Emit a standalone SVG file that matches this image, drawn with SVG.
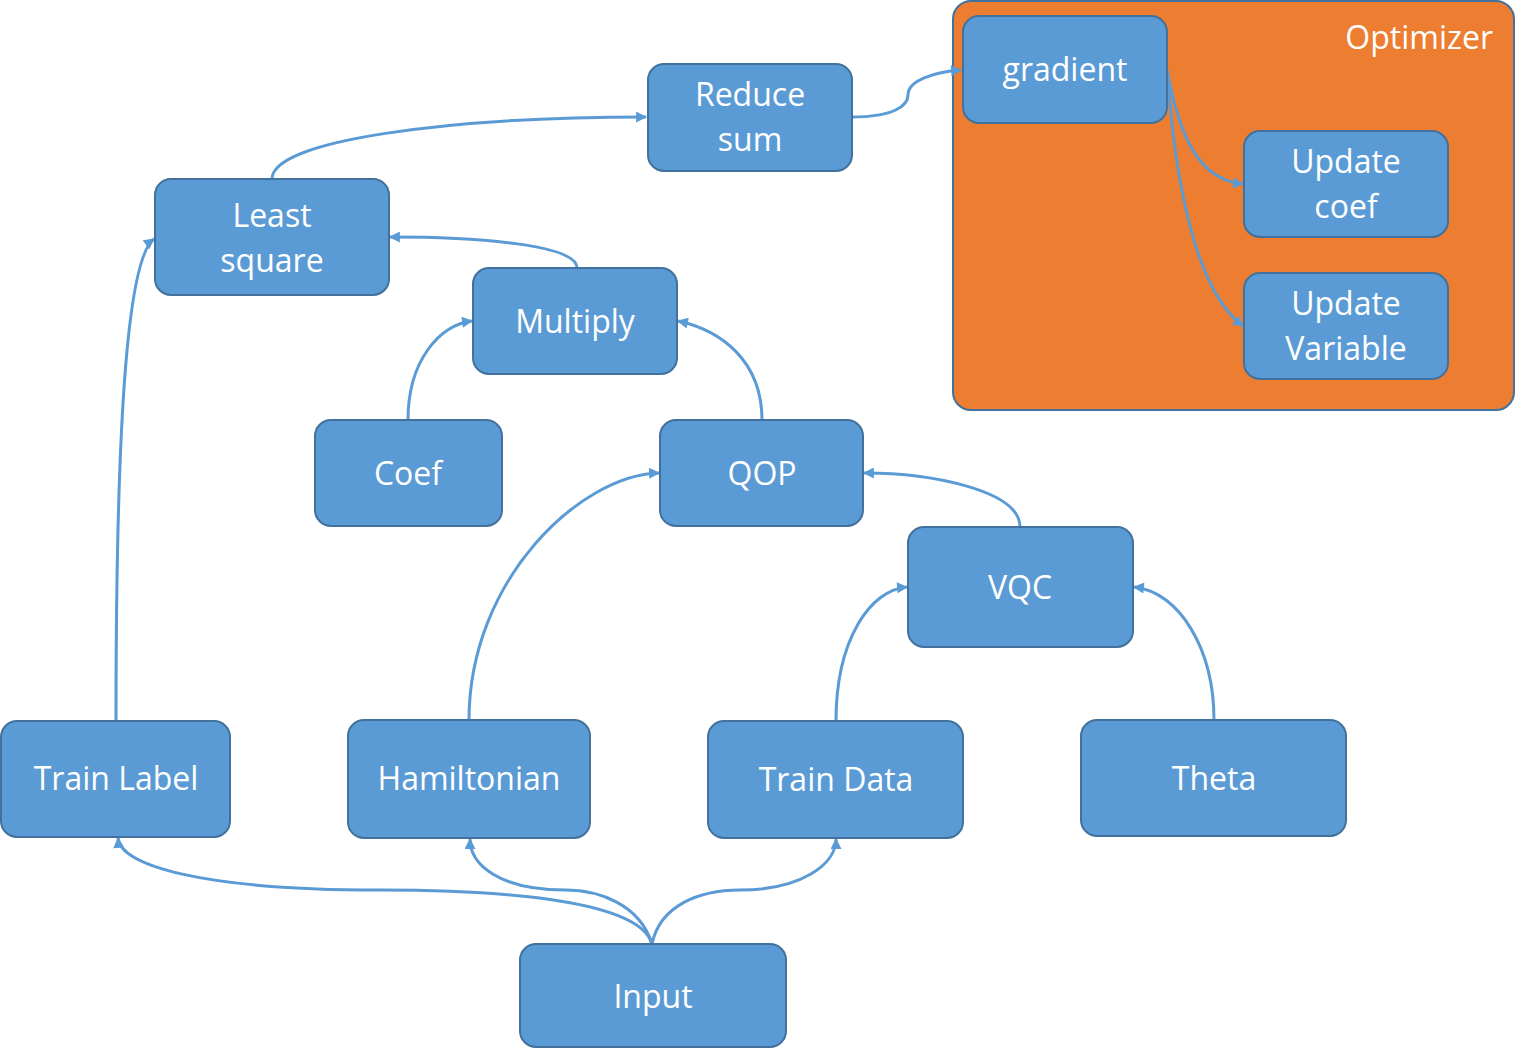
<svg xmlns="http://www.w3.org/2000/svg" width="1516" height="1048" viewBox="0 0 1516 1048">
<style>
.n{fill:#5B9BD5;stroke:#41719C;stroke-width:2}
.t{font-family:"Open Sans","Noto Sans","DejaVu Sans",sans-serif;font-size:32px;fill:#fff;text-anchor:middle}
.c{fill:none;stroke:#5B9BD5;stroke-width:3}
</style>
<defs>
<marker id="a" viewBox="0 0 10 10" refX="9" refY="5" markerWidth="12" markerHeight="11" markerUnits="userSpaceOnUse" orient="auto">
<path d="M0,0 L10,5 L0,10 Z" fill="#5B9BD5"/>
</marker>
</defs>
<rect width="1516" height="1048" fill="#fff"/>
<g id="optimizer">
<rect x="953" y="1" width="561" height="409" rx="18" fill="#ED7D31" stroke="#41719C" stroke-width="2"/>
<text class="t" x="1493" y="49" style="text-anchor:end">Optimizer</text>
</g>
<g id="connectors">
<path class="c" marker-end="url(#a)" d="M272,179 C272,140 450,117 646,117"/>
<path class="c" marker-end="url(#a)" d="M852,117 C895,117 908,105 908,95 C908,80 935,72 961,70"/>
<path class="c" marker-end="url(#a)" d="M1167,70 C1180,140 1200,180 1243,184"/>
<path class="c" marker-end="url(#a)" d="M1167,70 C1175,180 1195,290 1243,326"/>
<path class="c" marker-end="url(#a)" d="M577,268 C577,245 480,237 390,237"/>
<path class="c" marker-end="url(#a)" d="M408,420 C408,360 440,325 472,321"/>
<path class="c" marker-end="url(#a)" d="M762,420 C762,360 720,330 678,321"/>
<path class="c" marker-end="url(#a)" d="M469,720 C469,580 580,475 659,473"/>
<path class="c" marker-end="url(#a)" d="M1020,527 C1020,490 930,473 864,473"/>
<path class="c" marker-end="url(#a)" d="M836,721 C836,640 870,590 907,587"/>
<path class="c" marker-end="url(#a)" d="M1214,720 C1214,650 1180,592 1134,587"/>
<path class="c" marker-end="url(#a)" d="M116,721 C116,450 125,260 154,239"/>
<path class="c" marker-end="url(#a)" d="M652,944 C640,900 500,890 380,890 C200,890 120,865 118,838"/>
<path class="c" marker-end="url(#a)" d="M652,944 C640,905 600,890 565,890 C500,890 470,865 470,839"/>
<path class="c" marker-end="url(#a)" d="M652,944 C660,905 700,890 740,890 C800,890 836,865 836,839"/>
</g>
<g id="gradient"><rect class="n" x="963" y="16" width="204" height="107" rx="16"/><text class="t" x="1065" y="81">gradient</text></g>
<g id="update-coef"><rect class="n" x="1244" y="131" width="204" height="106" rx="16"/><text class="t" x="1346" y="173">Update</text><text class="t" x="1346" y="218">coef</text></g>
<g id="update-variable"><rect class="n" x="1244" y="273" width="204" height="106" rx="16"/><text class="t" x="1346" y="315">Update</text><text class="t" x="1346" y="360">Variable</text></g>
<g id="reduce-sum"><rect class="n" x="648" y="64" width="204" height="107" rx="16"/><text class="t" x="750" y="106">Reduce</text><text class="t" x="750" y="151">sum</text></g>
<g id="least-square"><rect class="n" x="155" y="179" width="234" height="116" rx="16"/><text class="t" x="272" y="227">Least</text><text class="t" x="272" y="272">square</text></g>
<g id="multiply"><rect class="n" x="473" y="268" width="204" height="106" rx="16"/><text class="t" x="575" y="333">Multiply</text></g>
<g id="coef"><rect class="n" x="315" y="420" width="187" height="106" rx="16"/><text class="t" x="408" y="485">Coef</text></g>
<g id="qop"><rect class="n" x="660" y="420" width="203" height="106" rx="16"/><text class="t" x="762" y="485">QOP</text></g>
<g id="vqc"><rect class="n" x="908" y="527" width="225" height="120" rx="16"/><text class="t" x="1020" y="599">VQC</text></g>
<g id="train-label"><rect class="n" x="1" y="721" width="229" height="116" rx="16"/><text class="t" x="116" y="790">Train Label</text></g>
<g id="hamiltonian"><rect class="n" x="348" y="720" width="242" height="118" rx="16"/><text class="t" x="469" y="790">Hamiltonian</text></g>
<g id="train-data"><rect class="n" x="708" y="721" width="255" height="117" rx="16"/><text class="t" x="836" y="791">Train Data</text></g>
<g id="theta"><rect class="n" x="1081" y="720" width="265" height="116" rx="16"/><text class="t" x="1214" y="790">Theta</text></g>
<g id="input"><rect class="n" x="520" y="944" width="266" height="103" rx="16"/><text class="t" x="653" y="1008">Input</text></g>
</svg>
